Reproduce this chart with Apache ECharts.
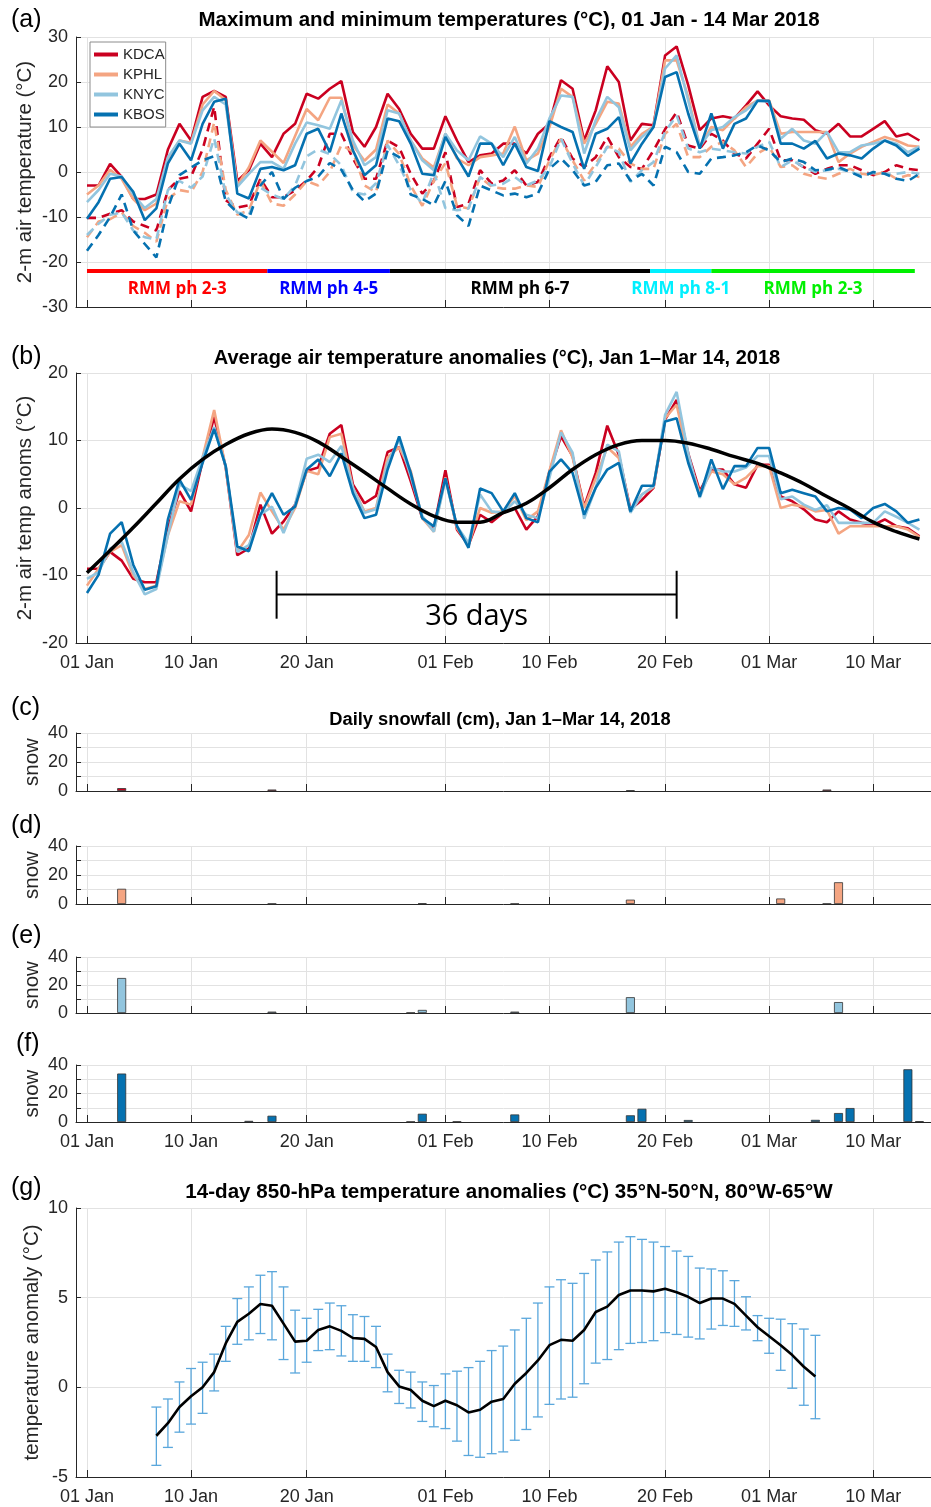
<!DOCTYPE html>
<html><head><meta charset="utf-8">
<script src="https://cdn.jsdelivr.net/npm/echarts@6/dist/echarts.min.js"></script>
<style>html,body{margin:0;padding:0;background:#fff}#c{width:931px;height:1507px}</style>
</head><body><div id="c"></div>
<script>
// ---------------- DATA ----------------
// day index: 0 = 01 Jan 2018 ... 72 = 14 Mar 2018
const tickDays = [0, 9, 19, 31, 40, 50, 59, 68];
const tickLabels = ['01 Jan', '10 Jan', '20 Jan', '01 Feb', '10 Feb', '20 Feb', '01 Mar', '10 Mar'];
const stations = ['KDCA', 'KPHL', 'KNYC', 'KBOS'];

// (a) daily max / min 2-m air temperature (°C)
const kdcaMax = [-3, -3, 1.8, -1.1, -6, -6, -5, 5, 10.7, 7,
  16.7, 18, 16.7, -2, 0.4, 6.3, 3.3, 8.5, 10.7, 17.4,
  16.3, 18.5, 20.2, 8.9, 5.6, 10, 17.4, 14, 8.5, 5.2,
  5.2, 12.4, 7, 2.2, 3.7, 4.1, 6.3, 6.3, 4.1, 8.5,
  10.7, 20.4, 18.5, 7, 13.7, 23.5, 20, 7, 10.7, 10.4,
  25.9, 27.9, 19.3, 9.3, 11.9, 12.4, 11.9, 14.8, 17.9, 14.8,
  12.4, 11.9, 11.6, 9.3, 8.5, 10.7, 7.9, 7.9, 9.6, 11.3,
  7.9, 8.5, 7];
const kphlMax = [-5, -3, 0.5, -1.5, -6, -8.5, -7, 3, 7, 6.5,
  15, 18, 16, -3, 1, 7, 4.5, 2, 8, 14,
  11.5, 16.5, 16.5, 6, 2.5, 5, 15, 13, 7, 3,
  1, 8.5, 3, 1.5, 3.3, 3.7, 4.1, 10.1, 2.6, 4.1,
  10, 18.5, 16.7, 6.3, 10.7, 15.6, 15.2, 5.6, 8.5, 10.1,
  24.8, 24.8, 16.7, 5.6, 10, 9.3, 11.9, 14.4, 15.9, 15.9,
  8.5, 8.9, 8.9, 8.9, 8.9, 2.2, 4.1, 5.6, 6.7, 7.8,
  7, 5.9, 5.6];
const knycMax = [-6.7, -4, -0.4, -1, -5, -8, -6, 3.3, 7, 6.3,
  13.7, 16.7, 15, -3.3, -0.4, 2.2, 2.2, 0.7, 6.3, 11,
  10.4, 9.6, 15.9, 7, 1.5, 3.3, 13.7, 13, 7, 2.6,
  0.4, 8.5, 4.8, 2.6, 7.9, 6.3, 3.3, 7.8, 1.9, 5.2,
  11.9, 17, 16.7, 4.1, 11.5, 16.7, 14.4, 4.8, 7.8, 10,
  23, 25.9, 15.9, 5.6, 9.3, 10, 12.2, 13.7, 15.9, 15.6,
  7.4, 9.6, 7, 6.3, 8.9, 4.4, 4.4, 5.9, 6.3, 7,
  6.3, 4.4, 5.6];
const kbosMax = [-10.4, -6.7, -1.5, -1.1, -4.4, -10.7, -8.1, 1.9, 6.3, 2.6,
  10.7, 15.6, 16.3, -4.8, -5.9, 0.7, 1.1, 0.4, 1.5, 8.5,
  9.6, 4.4, 13, 4.8, -0.7, 1.5, 11.9, 11.3, 6.3, -0.4,
  -0.7, 7.8, 3.3, -1, 6.3, 6.3, 1.5, 6.3, 1.1, 0.2,
  11.3, 10, 8.9, 0.7, 8.5, 9.6, 12.2, 1.9, 6.3, 10,
  21.1, 22.2, 13, 5.2, 13, 5.2, 10.7, 11.9, 15.8, 15.8,
  6.3, 6.3, 5.2, 6.9, 3, 4.1, 3.7, 3, 5.2, 7,
  5.9, 3.6, 5.2];
const kdcaMin = [-10.2, -10.2, -9.3, -8.5, -11, -12, -13, -4, -1.5, -1,
  5, 14.5, -6.3, -7.9, -7.4, -1.5, -5.6, -5.6, -4.1, -1.9,
  1.1, 8.5, 8.5, 3, -1.5, -1.5, 7, 5.5, -0.4, -4.8,
  -2, 4.4, -7.8, -7, 0.4, -2.6, -1.9, 0.4, -3, -2.2,
  3.3, 7.8, 3, 1.1, 3.3, 7.8, 3.3, 1.1, 0.7, 4.8,
  9.5, 13.3, 5.9, 5.2, 8.5, 7, 4.1, 3, 6.3, 9.6,
  2.6, 2.6, 1.1, -0.4, 0.7, 1.5, 1.5, 0.4, -0.7, 0,
  1.5, 0.7, 0.4];
const kphlMin = [-14.5, -11, -10.5, -9, -12, -13.5, -15.5, -6, -4, -4.5,
  0, 11, -4, -9.5, -8.5, -2, -7, -7.5, -5, -2,
  -3, 0, 6, 4.5, -3, -4.5, 7, 4, -3, -7.5,
  -2, 2, -7.5, -8.1, -1.1, -3.3, -3.7, -3.7, -3, -3.3,
  2.6, 7.4, 2.6, -1.9, 1.9, 5.6, 5.2, 1.9, 0.7, 0.7,
  8.5, 10.7, 3.3, 3.3, 5.6, 6.7, 4.8, 1.1, 4.1, 5.6,
  1.1, 1.5, -0.4, -1.1, -1.5, -0.4, 0.7, -0.4, -0.7, 0,
  -1.5, -0.7, -1.1];
const knycMin = [-14, -11.5, -9.5, -9, -13, -14.5, -15, -4, -2, -3.5,
  -1, 7.5, -5, -9, -9.5, -3.5, -5, -6, -3, 3.5,
  5, 4, 1.5, -4.5, -5, -2.5, 6, 1.5, -4, -7,
  0, -8, -8.5, -8.1, -1.1, -3, -2.6, -1.1, -3, -1.9,
  1.1, 7.4, 1.9, -3, 1.1, 5.6, 4.4, -2.2, 0.4, 2.2,
  8.9, 12.6, 5.2, 4.4, 5.2, 4.8, 4.4, 4.1, 5.6, 6.7,
  1.1, 2.6, 1.1, 0, 0.4, 0.7, 0, -0.7, -0.2, -0.4,
  -0.4, 0, -0.4];
const kbosMin = [-17.5, -14, -10, -5, -13, -16, -19, -8, -0.7, 1,
  2.6, 3.5, -6.5, -9, -10.4, -3, 0, -6, -3.5, -2,
  -1, 2, 0.5, -4, -6.5, -4.8, 4.8, 3.3, -5, -6,
  -7.4, -2, -9.6, -12, -3, -4.1, -5.2, -4.8, -5.6, -4.8,
  0.7, 3, 0.4, -3, -2.2, 1.5, 1.9, -1.9, -0.4, -3,
  5.6, 4.4, 0, -0.4, 3, 3.3, 3.7, 4.4, 5.9, 4.8,
  2.2, 3, 2.2, 0.4, 0.5, 1.1, 0, -1.1, 0, -0.4,
  -1.5, -2, -0.4];

// RMM phases (day ranges) and labels
const rmmStart = [0, 15.6, 26.2, 48.7, 54];
const rmmEnd = [15.6, 26.2, 48.7, 54, 71.6];
const rmmLabels = ['RMM ph 2-3', 'RMM ph 4-5', 'RMM ph 6-7', 'RMM ph 8-1', 'RMM ph 2-3'];
const rmmBarLevel = -22;
const rmmLabelLevel = -26;

// (b) average air temperature anomalies (°C)
const kdcaAnom = [-9, -9, -6.5, -7.8, -10.5, -11, -11, -3, 2.5, -0.5,
  7, 13.5, 6, -7, -6, 0.5, -3.8, -2, 0.5, 5.5,
  6, 11, 12.3, 3.5, 0.7, 1.8, 8.3, 9, 4, -1.5,
  -3, 5.6, -3.2, -5.5, -1, -2.1, -0.7, 0, -3.2, -1.2,
  5.4, 10.6, 7.7, 0.2, 5.2, 12.2, 7.9, -0.2, 1.2, 3,
  13.1, 16, 8.1, 2.5, 5.7, 5.7, 3.5, 3, 6.4, 6.4,
  1.7, 1, -0.2, -1.7, -2.1, -0.5, -1.7, -2.2, -2.5, -1.7,
  -2.7, -3, -4.2];
const kphlAnom = [-11.5, -9, -6.5, -5.5, -10, -12, -11.5, -4, 1, 0.5,
  7.5, 14.5, 6, -6.5, -4, 2.3, -0.5, -3.2, 0, 5.5,
  5, 10.5, 11, 3, -0.5, 0, 7.5, 9, 5.5, -1.5,
  -3.5, 4.5, -3, -5.5, 0, -0.7, -0.5, 1.8, -1.8, -0.5,
  5.5, 11.5, 7.5, 0, 4.4, 9, 7.4, -0.5, 2, 3.1,
  13.3, 15.3, 7.5, 2.2, 5.4, 5, 3.5, 4.5, 6.2, 6.2,
  0, 0.5, 0.2, -0.5, -0.3, -3.8, -2.7, -2.7, -2.7, -2.7,
  -2.7, -3.2, -4.3];
const knycAnom = [-10.5, -9.5, -6, -5, -9.5, -12.8, -12, -4, 3.5, 2.5,
  7.5, 12, 6.2, -6.5, -5.5, -1, 0.2, -3.7, 0.5, 7.3,
  7.9, 6.8, 9.2, 3, -0.7, -0.2, 6.7, 10.1, 4.7, -1.2,
  -3.5, 4.2, -2.7, -5.2, 2, -0.5, -0.7, 1, -1, -1.5,
  4.5, 11.2, 8.2, -1.6, 3, 9.4, 8.4, -0.7, 2, 3.2,
  13.8, 17.2, 8.1, 1.5, 6, 5.4, 5.4, 6, 7.7, 7.7,
  1.3, 1.7, 0.5, -0.3, 0.4, -2.2, -2.2, -2.2, -2.2, -0.5,
  -1.3, -2.2, -3.2];
const kbosAnom = [-12.6, -9.9, -3.8, -2.1, -8.4, -12.1, -11.6, -1.7, 4.2, 1.2,
  6.7, 11.7, 6.2, -5.7, -6.4, -1, 2.2, -1, 0.2, 5.7,
  7.2, 4.7, 8.1, 2.2, -1.5, -1, 5.7, 10.6, 5.2, -1.5,
  -2.7, 4.4, -2.7, -5.9, 2.9, 2.2, -0.5, 2.2, -1.5, -2.1,
  5.4, 7.2, 5.2, -1, 3, 5.7, 6.7, -0.5, 3.3, 3.3,
  12.8, 13.3, 6.7, 1.7, 7.2, 2.8, 6.2, 6.2, 8.9, 8.9,
  2.2, 2.7, 2.2, 1.7, -0.5, 0, -0.2, -1.5, 0, 0.6,
  -0.5, -2.2, -1.7];
// smooth fitted curve, every 2 days
const fitDays = [0, 2, 4, 6, 8, 10, 12, 14, 16, 18, 20, 22, 24, 26, 28, 30, 32, 34, 36,
  38, 40, 42, 44, 46, 48, 50, 52, 54, 56, 58, 60, 62, 64, 66, 68, 70, 72];
const fitValues = [-9.6, -6.3, -2.9, 0.7, 4.3, 7.2, 9.4, 11, 11.7, 11.2, 9.8, 7.6, 5.3, 2.9, 0.6, -1.2, -2.1, -2.1, -0.7,
  0.7, 3, 5.7, 7.9, 9.4, 10, 10, 9.6, 8.7, 7.6, 6.6, 5.2, 3.6, 1.7, -0.1, -2.1, -3.5, -4.6];
// "36 days" bracket
const bracketStart = 16.4, bracketEnd = 51.0, bracketLevel = -12.8;
const bracketText = '36 days';

// (c)-(f) daily snowfall (cm): days with snow and amounts
const snowDays = {
  KDCA: [3, 16, 47, 64],
  KPHL: [3, 16, 29, 37, 47, 60, 64, 65],
  KNYC: [3, 16, 28, 29, 37, 47, 65],
  KBOS: [3, 14, 16, 28, 29, 32, 37, 47, 48, 52, 63, 65, 66, 71, 72]
};
const snowCm = {
  KDCA: [2, 1, 0.5, 1],
  KPHL: [10.5, 0.3, 0.5, 0.3, 3, 3.8, 0.3, 15],
  KNYC: [25, 1, 0.3, 2.2, 1, 11.3, 7.8],
  KBOS: [34, 0.8, 4.4, 0.3, 5.8, 0.4, 5.3, 4.7, 9.3, 1.4, 1.5, 6.3, 9.8, 37, 0.6]
};

// (g) 14-day 850-hPa temperature anomalies, first day = 6 (07 Jan)
const g850Start = 6;
const g850Mean = [-2.7, -2.0, -1.1, -0.5, 0.0, 0.85, 2.45, 3.65, 4.1, 4.65,
  4.55, 3.55, 2.55, 2.6, 3.2, 3.4, 3.15, 2.75, 2.7, 2.25,
  0.85, 0.05, -0.15, -0.75, -1.05, -0.75, -1.0, -1.4, -1.25, -0.8,
  -0.65, 0.2, 0.8, 1.5, 2.35, 2.65, 2.6, 3.2, 4.2, 4.5,
  5.15, 5.4, 5.4, 5.35, 5.5, 5.3, 5.05, 4.7, 4.95, 4.95,
  4.65, 4.0, 3.35, 2.85, 2.35, 1.8, 1.15, 0.6];
const g850Upper = [-1.1, -0.65, 0.3, 1.05, 1.4, 1.85, 3.4, 4.95, 5.6, 6.25,
  6.45, 5.6, 4.3, 3.85, 4.35, 4.7, 4.55, 4.05, 3.95, 3.4,
  1.85, 0.95, 0.85, 0.3, 0.1, 0.75, 0.9, 1.1, 1.45, 2.05,
  2.3, 3.2, 3.85, 4.7, 5.6, 6.0, 5.8, 6.35, 7.1, 7.55,
  8.1, 8.4, 8.25, 8.1, 7.85, 7.6, 7.3, 6.65, 6.6, 6.5,
  5.95, 5.05, 4.0, 3.85, 3.8, 3.55, 3.25, 2.9];
const g850Lower = [-4.35, -3.35, -2.5, -2.05, -1.45, -0.2, 1.45, 2.4, 2.65, 3.0,
  2.65, 1.55, 0.8, 1.4, 2.05, 2.1, 1.75, 1.45, 1.45, 1.1,
  -0.25, -0.9, -1.15, -1.9, -2.2, -2.3, -3.0, -3.8, -3.9, -3.7,
  -3.6, -2.95, -2.35, -1.65, -0.95, -0.65, -0.55, 0.2, 1.35, 1.55,
  2.1, 2.45, 2.5, 2.6, 3.05, 2.95, 2.8, 2.7, 3.25, 3.45,
  3.4, 3.2, 2.6, 1.9, 0.95, -0.05, -1.0, -1.75];

// ---------------- STYLE / LAYOUT ----------------
const FONT = 'Liberation Sans';
const AX = '#262626';
const GRIDC = '#e2e2e2';
const stationColors = ['#ca0020', '#f4a582', '#92c5de', '#0571b0'];
const phaseColors = ['#ff0000', '#0000ff', '#000000', '#00f0ff', '#00f000'];
const gridTops = [37, 373, 733, 846, 957, 1065, 1208];
const gridHeights = [270, 270, 58, 58, 56, 57, 269];

const toXY = arr => arr.map((v, i) => [i, v]);

function xAx(gi, showLabels) {
  return {
    type: 'value', gridIndex: gi, min: -0.95, max: 73,
    axisLine: { show: true, onZero: false, lineStyle: { color: AX, width: 1 } },
    axisTick: { show: true, inside: true, length: 7, customValues: tickDays, lineStyle: { color: AX } },
    axisLabel: {
      show: showLabels, customValues: tickDays, color: AX, fontSize: 18, margin: 11, fontFamily: FONT,
      formatter: v => { const k = tickDays.indexOf(v); return k >= 0 ? tickLabels[k] : ''; }
    },
    splitLine: { show: true, lineStyle: { color: GRIDC, width: 1 } }
  };
}
function yAx(gi, min, max, interval, name, gap, fmt) {
  return {
    type: 'value', gridIndex: gi, min, max, interval,
    name, nameLocation: 'middle', nameGap: gap, nameRotate: 90, nameMoveOverlap: false,
    nameTextStyle: { fontSize: 20.5, color: AX, fontFamily: FONT },
    axisLine: { show: true, onZero: false, lineStyle: { color: AX, width: 1 } },
    axisTick: { show: true, inside: true, length: 5, lineStyle: { color: AX } },
    axisLabel: { color: AX, fontSize: 18, margin: 8, fontFamily: FONT, formatter: fmt || (v => String(v)) },
    splitLine: { show: true, lineStyle: { color: GRIDC, width: 1 } }
  };
}

const grids = gridTops.map((t, i) => ({ left: 76, right: 0, top: t, height: gridHeights[i] }));
const xAxes = [xAx(0, false), xAx(1, true), xAx(2, false), xAx(3, false), xAx(4, false), xAx(5, true), xAx(6, true)];
const snowFmt = v => (v % 20 === 0 ? String(v) : '');
const yAxes = [
  yAx(0, -30, 30, 10, '2-m air temperature (°C)', 40),
  yAx(1, -20, 20, 10, '2-m air temp anoms (°C)', 40),
  yAx(2, 0, 40, 10, 'snow', 33, snowFmt),
  yAx(3, 0, 40, 10, 'snow', 33, snowFmt),
  yAx(4, 0, 40, 10, 'snow', 33, snowFmt),
  yAx(5, 0, 40, 10, 'snow', 33, snowFmt),
  yAx(6, -5, 10, 5, 'temperature anomaly (°C)', 33)
];

const series = [];
// (a) minimum (dashed) then maximum (solid)
const maxArr = [kdcaMax, kphlMax, knycMax, kbosMax];
const minArr = [kdcaMin, kphlMin, knycMin, kbosMin];
stations.forEach((s, i) => {
  series.push({
    name: s + ' min', type: 'line', xAxisIndex: 0, yAxisIndex: 0, data: toXY(minArr[i]),
    symbol: 'none', lineStyle: { color: stationColors[i], width: 2.6, type: [9, 6] }, itemStyle: { color: stationColors[i] }
  });
});
stations.forEach((s, i) => {
  series.push({
    name: s, type: 'line', xAxisIndex: 0, yAxisIndex: 0, data: toXY(maxArr[i]),
    symbol: 'none', lineStyle: { color: stationColors[i], width: 2.6 }, itemStyle: { color: stationColors[i] }
  });
});
// RMM phase bars
series.push({
  type: 'custom', xAxisIndex: 0, yAxisIndex: 0, silent: true,
  data: rmmStart.map((s, i) => [s, rmmEnd[i], i]),
  renderItem: (params, api) => {
    const s = api.value(0), e = api.value(1), i = api.value(2);
    const p1 = api.coord([s, rmmBarLevel]), p2 = api.coord([e, rmmBarLevel]);
    const pc = api.coord([(s + e) / 2, rmmLabelLevel]);
    return {
      type: 'group', children: [
        { type: 'line', shape: { x1: p1[0], y1: p1[1], x2: p2[0], y2: p2[1] }, style: { stroke: phaseColors[i], lineWidth: 4 } },
        { type: 'text', x: pc[0], y: pc[1], style: { text: rmmLabels[i], fill: phaseColors[i], font: 'bold 17px "Open Sans"', textAlign: 'center', textVerticalAlign: 'middle', align: 'center', verticalAlign: 'middle' } }
      ]
    };
  }
});
// (b)
const anomArr = [kdcaAnom, kphlAnom, knycAnom, kbosAnom];
stations.forEach((s, i) => {
  series.push({
    name: s + ' anom', type: 'line', xAxisIndex: 1, yAxisIndex: 1, data: toXY(anomArr[i]),
    symbol: 'none', lineStyle: { color: stationColors[i], width: 2.6 }, itemStyle: { color: stationColors[i] }
  });
});
series.push({
  name: 'fit', type: 'line', xAxisIndex: 1, yAxisIndex: 1, smooth: 0.4,
  data: fitDays.map((d, i) => [d, fitValues[i]]),
  symbol: 'none', lineStyle: { color: '#000', width: 3.5 }, z: 5
});
series.push({
  type: 'custom', xAxisIndex: 1, yAxisIndex: 1, silent: true, z: 6,
  data: [[bracketStart, bracketEnd, bracketLevel]],
  renderItem: (params, api) => {
    const a = api.value(0), b = api.value(1), lv = api.value(2);
    const p1 = api.coord([a, lv]), p2 = api.coord([b, lv]);
    const t1 = api.coord([a, lv + 3.5]), t2 = api.coord([a, lv - 3.6]);
    const pc = api.coord([(a + b) / 2, lv - 3.3]);
    const st = { stroke: '#000', lineWidth: 2 };
    return {
      type: 'group', children: [
        { type: 'line', shape: { x1: p1[0], y1: p1[1], x2: p2[0], y2: p2[1] }, style: st },
        { type: 'line', shape: { x1: t1[0], y1: t1[1], x2: t2[0], y2: t2[1] }, style: st },
        { type: 'line', shape: { x1: p2[0], y1: t1[1], x2: p2[0], y2: t2[1] }, style: st },
        { type: 'text', x: pc[0], y: pc[1], style: { text: bracketText, fill: '#000', font: '29px "Open Sans"', textAlign: 'center', textVerticalAlign: 'middle', align: 'center', verticalAlign: 'middle' } }
      ]
    };
  }
});
// (c)-(f) snow bars
stations.forEach((s, i) => {
  series.push({
    name: s + ' snow', type: 'bar', xAxisIndex: 2 + i, yAxisIndex: 2 + i, barWidth: 9,
    data: snowDays[s].map((d, k) => [d, snowCm[s][k]]),
    itemStyle: { color: stationColors[i], borderColor: '#333', borderWidth: 0.8 }
  });
});
// (g) error bars and mean line
series.push({
  type: 'custom', xAxisIndex: 6, yAxisIndex: 6, silent: true,
  data: g850Mean.map((m, i) => [g850Start + i, g850Lower[i], g850Upper[i]]),
  renderItem: (params, api) => {
    const x = api.value(0);
    const lo = api.coord([x, api.value(1)]), hi = api.coord([x, api.value(2)]);
    const cw = 5;
    const st = { stroke: '#5aa7dc', lineWidth: 1.3 };
    return {
      type: 'group', children: [
        { type: 'line', shape: { x1: lo[0], y1: lo[1], x2: hi[0], y2: hi[1] }, style: st },
        { type: 'line', shape: { x1: lo[0] - cw, y1: lo[1], x2: lo[0] + cw, y2: lo[1] }, style: st },
        { type: 'line', shape: { x1: hi[0] - cw, y1: hi[1], x2: hi[0] + cw, y2: hi[1] }, style: st }
      ]
    };
  }
});
series.push({
  name: '850 mean', type: 'line', xAxisIndex: 6, yAxisIndex: 6,
  data: g850Mean.map((m, i) => [g850Start + i, m]),
  symbol: 'none', lineStyle: { color: '#000', width: 2.6 }, z: 5
});

const titleStyle = (size) => ({ fontSize: size, fontWeight: 'bold', color: '#000', fontFamily: FONT });
const letters = [['(a)', 11, 8], ['(b)', 11, 345], ['(c)', 11, 696], ['(d)', 11, 814], ['(e)', 11, 924], ['(f)', 16, 1032], ['(g)', 11, 1176]];

const option = {
  animation: false,
  backgroundColor: '#fff',
  textStyle: { fontFamily: FONT },
  title: [
    { text: 'Maximum and minimum temperatures (°C), 01 Jan - 14 Mar 2018', left: 509, top: 10, textAlign: 'center', textStyle: titleStyle(20.5), padding: 0 },
    { text: 'Average air temperature anomalies (°C), Jan 1–Mar 14, 2018', left: 497, top: 348, textAlign: 'center', textStyle: titleStyle(20), padding: 0 },
    { text: 'Daily snowfall (cm), Jan 1–Mar 14, 2018', left: 500, top: 711, textAlign: 'center', textStyle: titleStyle(18.3), padding: 0 },
    { text: '14-day 850-hPa temperature anomalies (°C) 35°N-50°N, 80°W-65°W', left: 509, top: 1182, textAlign: 'center', textStyle: titleStyle(20.6), padding: 0 }
  ],
  legend: {
    data: stations, orient: 'vertical', left: 90, top: 42, itemWidth: 24, itemHeight: 4, icon: 'rect', itemGap: 5,
    textStyle: { fontSize: 15, color: AX, fontFamily: FONT }, backgroundColor: '#fff', borderColor: '#8c8c8c',
    borderWidth: 1, padding: [5, 1, 5, 4], selectedMode: false
  },
  graphic: letters.map(([t, l, tp]) => ({ type: 'text', left: l, top: tp, style: { text: t, font: '25px "Liberation Sans"', fill: '#000' } })),
  grid: grids,
  xAxis: xAxes,
  yAxis: yAxes,
  series
};

const chart = echarts.init(document.getElementById('c'), null, { renderer: 'canvas', width: 931, height: 1507 });
chart.setOption(option);
</script>
</body></html>
